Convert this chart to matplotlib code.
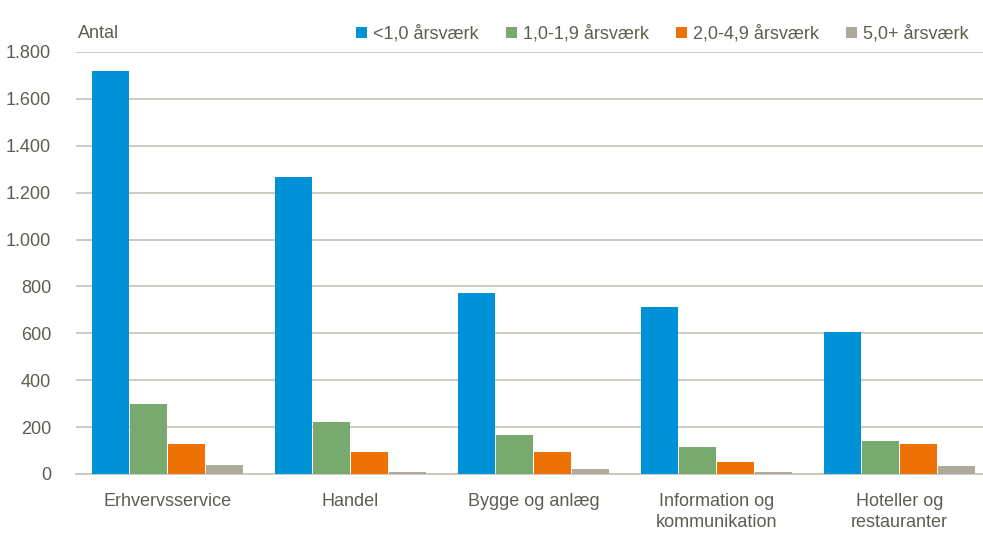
import matplotlib
matplotlib.use("Agg")
from matplotlib import pyplot as plt
import numpy as np

# data
categories = ["Erhvervsservice", "Handel", "Bygge og anlæg",
              "Information og\nkommunikation", "Hoteller og\nrestauranter"]
series = ["<1,0 årsværk", "1,0-1,9 årsværk", "2,0-4,9 årsværk", "5,0+ årsværk"]
under_1 = [1721, 1266, 771, 713, 607]
from_1 = [298, 220, 167, 114, 142]
from_2 = [127, 93, 93, 50, 126]
from_5 = [37, 8, 22, 8, 33]
yticks = [0, 200, 400, 600, 800, 1000, 1200, 1400, 1600, 1800]
ytick_labels = ["0", "200", "400", "600", "800", "1.000", "1.200", "1.400", "1.600", "1.800"]

colors = ["#0091d6", "#78a96f", "#ee7203", "#adaa9c"]
txt = "#5f5c52"
plt.rcParams['font.family'] = ['Liberation Sans Narrow', 'Liberation Sans', 'DejaVu Sans']

fig = plt.figure(figsize=(9.83, 5.39), dpi=100)
W, H = 983, 539
ax = fig.add_axes([76 / W, (H - 474) / H, 907 / W, 422 / H])

x = np.arange(len(categories))
w = 0.207
for i, (vals, lab) in enumerate(zip([under_1, from_1, from_2, from_5], series)):
    ax.bar(x + (i - 1.5) * w, vals, w * 0.97, color=colors[i], label=lab, zorder=3)

ax.set_xlim(-0.5, -0.5 + 907 / 183)
ax.set_ylim(0, 1800)
ax.set_yticks(yticks)
ax.set_yticklabels(ytick_labels)
ax.set_xticks(x)
ax.set_xticklabels(categories, linespacing=1.25)
ax.grid(axis='y', color='#c8c6be', linewidth=1.3, zorder=0)
for s in ['left', 'right', 'top']:
    ax.spines[s].set_visible(False)
ax.spines['bottom'].set_color('#c8c6be')
ax.spines['bottom'].set_linewidth(1.3)
ax.tick_params(axis='y', length=0, pad=18, labelsize=13, labelcolor=txt)
ax.tick_params(axis='x', length=0, pad=14, labelsize=13, labelcolor=txt)

fig.text(78 / W, 1 - 34 / H, "Antal", fontsize=13, color=txt, va='center')
fig.legend(loc='center right', bbox_to_anchor=(969 / W, 1 - 34 / H), ncol=4,
           frameon=False, fontsize=13, labelcolor=txt, handlelength=0.6,
           handleheight=0.6, handletextpad=0.35, columnspacing=1.5,
           borderaxespad=0, borderpad=0)

plt.savefig("out.png", dpi=100)
